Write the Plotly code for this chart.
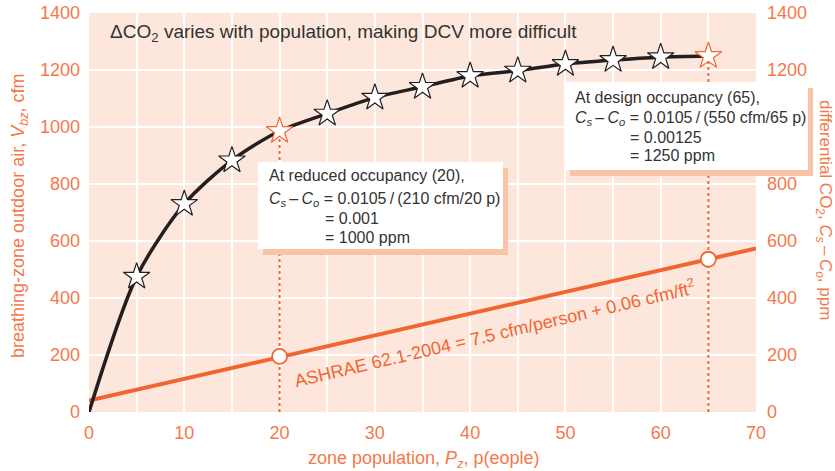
import plotly.graph_objects as go

# zone population (people) and differential CO2 (ppm)
pop_curve = [0, 5, 10, 15, 20, 25, 30, 35, 40, 45, 50, 55, 60, 65]
dco2_curve = [0, 475, 730, 883, 986, 1047, 1103, 1141, 1179, 1198, 1221, 1235, 1245, 1249]

# ASHRAE 62.1-2004 outdoor air line (cfm)
pop_line = [0, 70]
vbz_line = [40, 574]

# highlighted points
pop_marks = [20, 65]
vbz_marks = [195, 536]
dco2_marks = [986, 1249]

ORANGE = "#f26531"
TICK = "#f4784a"
BG = "#fde7dc"
SHADOW = "#f9c4a6"
TEXT = "#333333"
FONT = "Liberation Sans"

# plot area in pixels (for placing boxes/text)
L, R, T, B = 89, 756, 13, 412


def px(x):
    return (x - L) / (R - L)


def py(y):
    return (B - y) / (B - T)


fig = go.Figure()

# dotted drop lines
for xv, yv in zip(pop_marks, dco2_marks):
    fig.add_trace(go.Scatter(
        x=[xv, xv], y=[0, yv], mode="lines",
        line=dict(color=ORANGE, width=2, dash="dot"), hoverinfo="skip",
    ))

fig.add_trace(go.Scatter(
    x=pop_line, y=vbz_line, mode="lines",
    line=dict(color=ORANGE, width=4),
))

fig.add_trace(go.Scatter(
    x=pop_curve, y=dco2_curve, mode="lines",
    line=dict(color="#231f20", width=3.5, shape="spline", smoothing=0.8),
))

star_x = pop_curve[1:]
star_y = dco2_curve[1:]
star_line = [ORANGE if x in pop_marks else "#231f20" for x in star_x]
fig.add_trace(go.Scatter(
    x=star_x, y=star_y, mode="markers",
    marker=dict(symbol="star", size=20, color="white",
                line=dict(color=star_line, width=1.2)),
))

fig.add_trace(go.Scatter(
    x=pop_marks, y=vbz_marks, mode="markers",
    marker=dict(symbol="circle", size=15, color="white",
                line=dict(color=ORANGE, width=1.8)),
))

# invisible trace so right axis is drawn
fig.add_trace(go.Scatter(x=[0], y=[0], yaxis="y2", mode="markers",
                         marker=dict(opacity=0), hoverinfo="skip"))

# annotation boxes with shadow
boxes = [(258, 162, 503, 249), (565, 82, 808, 170)]
for x0, y0, x1, y1 in boxes:
    fig.add_shape(type="rect", xref="paper", yref="paper",
                  x0=px(x0 + 5), x1=px(x1 + 5), y0=py(y0 + 6), y1=py(y1 + 6),
                  fillcolor=SHADOW, line_width=0, layer="above")
    fig.add_shape(type="rect", xref="paper", yref="paper",
                  x0=px(x0), x1=px(x1), y0=py(y0), y1=py(y1),
                  fillcolor="white", line_width=0, layer="above")

CS = "<i>C<sub>s</sub></i>\u2009–\u2009<i>C<sub>o</sub></i>"
SL = "\u2009/\u2009"
texts = [
    (267, 175, "At reduced occupancy (20),"),
    (267, 199, CS + " = 0.0105" + SL + "(210 cfm/20 p)"),
    (323, 218, "= 0.001"),
    (323, 237, "= 1000 ppm"),
    (573, 97, "At design occupancy (65),"),
    (573, 118, CS + " = 0.0105" + SL + "(550 cfm/65 p)"),
    (628, 137, "= 0.00125"),
    (628, 155, "= 1250 ppm"),
]
for x, y, t in texts:
    fig.add_annotation(x=px(x), y=py(y), xref="paper", yref="paper",
                       text=t, showarrow=False, xanchor="left", yanchor="middle",
                       font=dict(family=FONT, size=16, color=TEXT))


def label(x, y, text, size, color, angle=0):
    fig.add_annotation(x=px(x), y=py(y), xref="paper", yref="paper",
                       text=text, showarrow=False, textangle=angle,
                       xanchor="center", yanchor="middle",
                       font=dict(family=FONT, size=size, color=color))


fig.add_annotation(x=px(108), y=py(33), xref="paper", yref="paper",
                   text="ΔCO<sub>2</sub> varies with population, making DCV more difficult",
                   showarrow=False, xanchor="left", yanchor="middle",
                   font=dict(family=FONT, size=19, color=TEXT))

label(494, 333, "ASHRAE 62.1-2004 = 7.5 cfm/person + 0.06 cfm/ft<sup>2</sup>",
      18, ORANGE, -13.2)
label(19, 216, "breathing-zone outdoor air, <i>V<sub>bz</sub></i>, cfm", 18, TICK, -90)
label(824, 210, "differential CO<sub>2</sub>, " + CS + ", ppm", 17, TICK, 90)
label(423, 459, "zone population, <i>P<sub>z</sub></i>, p(eople)", 18, TICK)

fig.update_layout(
    width=835, height=471,
    margin=dict(l=L, r=835 - R, t=T, b=471 - B, autoexpand=False),
    paper_bgcolor="white",
    plot_bgcolor=BG,
    showlegend=False,
    font=dict(family=FONT, size=18, color=TICK),
    xaxis=dict(range=[0, 70], tickvals=[0, 10, 20, 30, 40, 50, 60, 70],
               showgrid=True, gridcolor="white", gridwidth=1.5,
               minor=dict(dtick=5, showgrid=True, gridcolor="white", gridwidth=1.5),
               zeroline=False, showline=False, ticks="", ticklabelstandoff=8,
               automargin=False),
    yaxis=dict(range=[0, 1400], dtick=200, showgrid=True, gridcolor="white",
               gridwidth=1.5, zeroline=False, showline=False, ticks="",
               ticklabelstandoff=8, automargin=False),
    yaxis2=dict(range=[0, 1400], dtick=200, overlaying="y", side="right",
                showgrid=False, zeroline=False, showline=False, ticks="",
                ticklabelstandoff=10, automargin=False),
)

fig.write_html("out.html", config={"displayModeBar": False},
               post_script="document.body.style.margin='0';")
